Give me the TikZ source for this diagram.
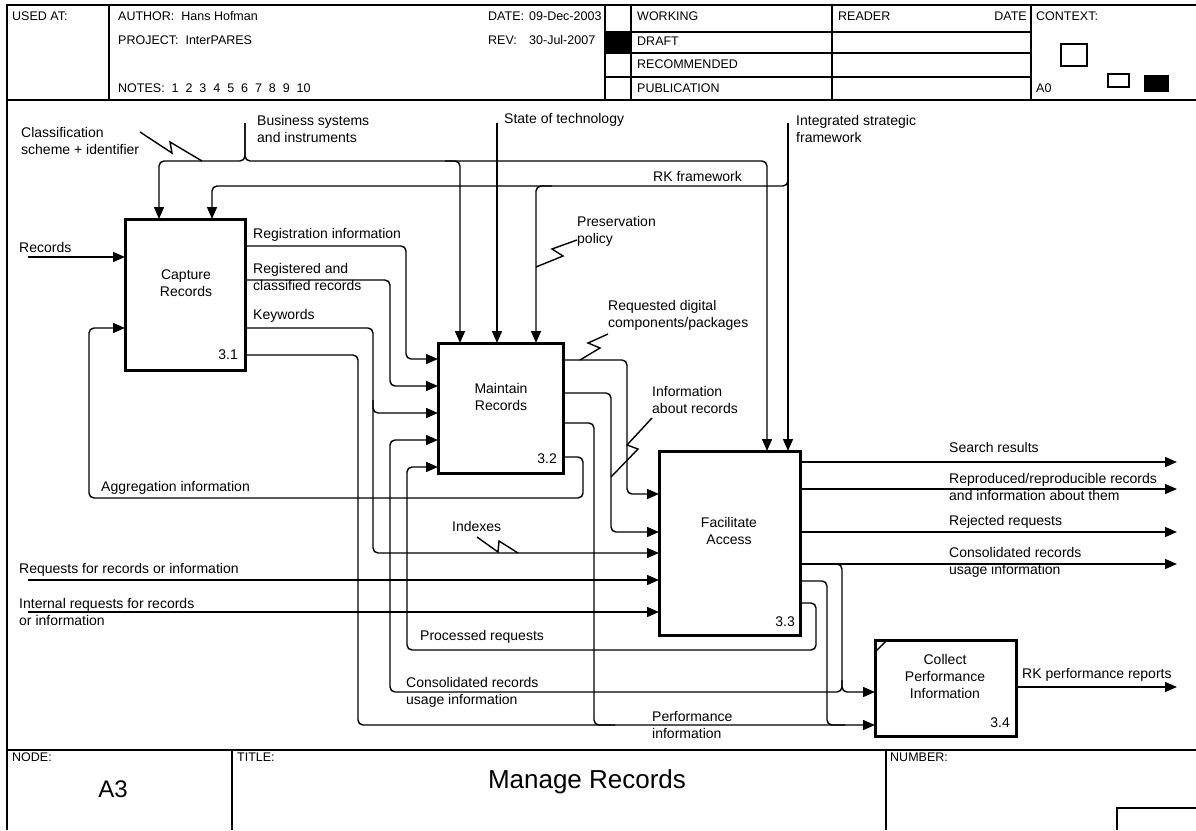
\documentclass[tikz,border=0pt]{standalone}
\usepackage{fontspec}
\setmainfont{Liberation Sans}
\usetikzlibrary{arrows.meta,calc}
\begin{document}
\begin{tikzpicture}[x=1pt,y=-1pt,
  conn/.style={line width=1.4pt, rounded corners=5pt},
  arr/.style={conn, -{Triangle[length=12pt,width=10pt]}},
  fbox/.style={draw, line width=3pt, anchor=north west, inner sep=0pt, outer sep=0pt},
  lbl/.style={anchor=west, inner sep=0pt, align=left, font=\fontsize{14}{17}\selectfont},
  blbl/.style={align=center, inner sep=0pt, font=\fontsize{14}{17}\selectfont},
  num/.style={anchor=east, inner sep=0pt, font=\fontsize{14}{17}\selectfont},
  hdr/.style={anchor=west, inner sep=0pt, font=\fontsize{12.5}{15}\selectfont},
  brd/.style={line width=1.6pt},
  thin/.style={line width=1.2pt},
  sq/.style={line width=1.4pt}]

\useasboundingbox (0,0) rectangle (1196,830);
\fill[white] (0,0) rectangle (1196,830);

% ---------- frame ----------
\draw[brd] (7,830) -- (7,5) -- (1196,5);
\draw[brd] (7,100) -- (1196,100);
\draw[brd] (7,750) -- (1196,750);
\draw[brd] (109,5) -- (109,100);
\draw[brd] (605,5) -- (605,100);
\draw[brd] (631,5) -- (631,100);
\draw[brd] (832,5) -- (832,100);
\draw[brd] (1031,5) -- (1031,100);
\draw[thin] (605,32) -- (1031,32) (605,53) -- (1031,53) (605,77) -- (1031,77);
\fill (605,32) rectangle (631,53);
\draw[thin] (1061,44) rectangle (1087,66);
\draw[thin] (1108,74) rectangle (1129,87);
\fill (1144,75) rectangle (1169,92);
\draw[brd] (232,750) -- (232,830);
\draw[brd] (886,750) -- (886,830);
\draw[thin] (1117,830) -- (1117,808) -- (1196,808);

% ---------- header text ----------
\node[hdr] (usedat) at (12,16) {USED AT:};
\node[hdr] (author) at (118,16) {AUTHOR:\ \ Hans Hofman};
\node[hdr] (project) at (118,40) {PROJECT:\ \ InterPARES};
\node[hdr] (notes) at (118,88) {NOTES:\ \ 1\ \ 2\ \ 3\ \ 4\ \ 5\ \ 6\ \ 7\ \ 8\ \ 9\ \ 10};
\node[hdr] (date) at (488,16) {\makebox[41pt][l]{DATE:}09-Dec-2003};
\node[hdr] (rev) at (488,40) {\makebox[41pt][l]{REV:}30-Jul-2007};
\node[hdr] (working) at (637,16) {WORKING};
\node[hdr] (draft) at (637,41) {DRAFT};
\node[hdr] (recom) at (637,64) {RECOMMENDED};
\node[hdr] (publ) at (637,88) {PUBLICATION};
\node[hdr] (reader) at (838,16) {READER};
\node[hdr, anchor=east] (rdate) at (1027,16) {DATE};
\node[hdr] (context) at (1036,16) {CONTEXT:};
\node[hdr] (a0) at (1036,88) {A0};

% ---------- title block ----------
\node[hdr] (nodelbl) at (12,757) {NODE:};
\node[hdr] (titlelbl) at (237,757) {TITLE:};
\node[hdr] (numlbl) at (890,757) {NUMBER:};
\node[inner sep=0pt, font=\fontsize{24}{28}\selectfont] (nodeid) at (113,789) {A3};
\node[inner sep=0pt, font=\fontsize{26}{30}\selectfont] (title) at (587,782) {Manage Records};

% ---------- boxes ----------
\node[fbox, minimum width=120pt, minimum height=151pt] (A1) at (125,219) {};
\node[fbox, minimum width=125pt, minimum height=130pt] (A2) at (438,343) {};
\node[fbox, minimum width=141pt, minimum height=184pt] (F) at (659,451) {};
\node[fbox, minimum width=141pt, minimum height=96pt] (C) at (875,640) {};
\draw[sq] ($(C.north west)+(1,11)$) -- ($(C.north west)+(12,0)$);

\node[blbl] (A1t) at (186,283) {Capture\\Records};
\node[num] (A1n) at (238,355) {3.1};
\node[blbl] (A2t) at (501,397) {Maintain\\Records};
\node[num] (A2n) at (557,459) {3.2};
\node[blbl] (Ft) at (729,531) {Facilitate\\Access};
\node[num] (Fn) at (795,622) {3.3};
\node[blbl] (Ct) at (945,676) {Collect\\Performance\\Information};
\node[num] (Cn) at (1010,723) {3.4};

% ---------- ports ----------
\coordinate (A1i1) at ($(A1.north west)+(0,38)$);
\coordinate (A1i2) at ($(A1.north west)+(0,109)$);
\coordinate (A1c1) at ($(A1.north west)+(34,0)$);
\coordinate (A1c2) at ($(A1.north west)+(87,0)$);
\coordinate (A1o1) at ($(A1.north east)+(0,27)$);
\coordinate (A1o2) at ($(A1.north east)+(0,61)$);
\coordinate (A1o3) at ($(A1.north east)+(0,109)$);
\coordinate (A1o4) at ($(A1.north east)+(0,136)$);

\coordinate (A2i1) at ($(A2.north west)+(0,16)$);
\coordinate (A2i2) at ($(A2.north west)+(0,43)$);
\coordinate (A2i3) at ($(A2.north west)+(0,70)$);
\coordinate (A2i4) at ($(A2.north west)+(0,97)$);
\coordinate (A2i5) at ($(A2.north west)+(0,124)$);
\coordinate (A2c1) at ($(A2.north west)+(22,0)$);
\coordinate (A2c2) at ($(A2.north west)+(59,0)$);
\coordinate (A2c3) at ($(A2.north west)+(98,0)$);
\coordinate (A2o1) at ($(A2.north east)+(0,17)$);
\coordinate (A2o2) at ($(A2.north east)+(0,50)$);
\coordinate (A2o3) at ($(A2.north east)+(0,80)$);
\coordinate (A2o4) at ($(A2.north east)+(0,114)$);

\coordinate (Fi1) at ($(F.north west)+(0,43)$);
\coordinate (Fi2) at ($(F.north west)+(0,81)$);
\coordinate (Fi3) at ($(F.north west)+(0,102)$);
\coordinate (Fi4) at ($(F.north west)+(0,129)$);
\coordinate (Fi5) at ($(F.north west)+(0,161)$);
\coordinate (Fc1) at ($(F.north west)+(108,0)$);
\coordinate (Fc2) at ($(F.north west)+(129,0)$);
\coordinate (Fo1) at ($(F.north east)+(0,11)$);
\coordinate (Fo2) at ($(F.north east)+(0,38)$);
\coordinate (Fo3) at ($(F.north east)+(0,81)$);
\coordinate (Fo4) at ($(F.north east)+(0,113)$);
\coordinate (Fo5) at ($(F.north east)+(0,130)$);
\coordinate (Fo6) at ($(F.north east)+(0,152)$);

\coordinate (Ci1) at ($(C.north west)+(0,52)$);
\coordinate (Ci2) at ($(C.north west)+(0,85)$);
\coordinate (Co1) at ($(C.north east)+(0,47)$);

% free ends
\coordinate (rec) at (28,257);
\coordinate (req) at (28,580);
\coordinate (ireq) at (28,612);
\coordinate (bs) at (245,123);
\coordinate (st) at (497,123);
\coordinate (isf) at (788,123);
\coordinate (out1) at (1177,462);
\coordinate (out2) at (1177,489);
\coordinate (out3) at (1177,532);
\coordinate (out4) at (1177,564);
\coordinate (out5) at (1177,687);

% ---------- connectors ----------
\draw[arr] (rec) -- (A1i1);
\draw[arr] (req) -- (Fi4);
\draw[arr] (ireq) -- (Fi5);

% controls
\draw[arr] (bs) -- (245,161) -- (159,161) -- (A1c1);
\draw[arr] (bs) -- (245,161) -- (767,161) -- (Fc1);
\draw[arr] (445,161) -- (460,161) -- (A2c1);
\draw[arr] (st) -- (A2c2);
\draw[arr] (isf) -- (Fc2);
\draw[arr] (788,170) -- (788,186) -- (212,186) -- (A1c2);
\draw[arr] (552,186) -- (536,186) -- (A2c3);

% A1 outputs
\draw[arr] (A1o1) -- (406,246) -- (406,359) -- (A2i1);
\draw[arr] (A1o2) -- (390,280) -- (390,386) -- (A2i2);
\draw[arr] (A1o3) -- (373,328) -- (373,553) -- (Fi3);
\draw[arr] (373,400) -- (373,413) -- (A2i3);
\draw[arr] (A1o4) -- (358,355) -- (358,725) -- (Ci2);

% A2 outputs
\draw[arr] (A2o1) -- (627,360) -- (627,494) -- (Fi1);
\draw[arr] (A2o2) -- (611,393) -- (611,532) -- (Fi2);
\draw[conn] (A2o3) -- (594,423) -- (594,725) -- (615,725);
\draw[arr] (A2o4) -- (583,457) -- (583,498) -- (89,498) -- (89,328) -- (A1i2);

% F outputs
\draw[arr] (Fo1) -- (out1);
\draw[arr] (Fo2) -- (out2);
\draw[arr] (Fo3) -- (out3);
\draw[arr] (Fo4) -- (out4);
\draw[arr] (830,564) -- (842,564) -- (842,692) -- (Ci1);
\draw[arr] (842,680) -- (842,692) -- (390,692) -- (390,440) -- (A2i4);
\draw[conn] (Fo5) -- (827,581) -- (827,725) -- (845,725);
\draw[arr] (Fo6) -- (816,603) -- (816,650) -- (407,650) -- (407,467) -- (A2i5);

% C output
\draw[arr] (Co1) -- (out5);

% ---------- squiggles ----------
\draw[sq] (140,132) -- (172,153) -- (170,142) -- (202,161);
\draw[sq] (536,267) -- (563,256) -- (552,249) -- (577,240);
\draw[sq] (580,360) -- (600,348) -- (588,343) -- (608,334);
\draw[sq] (652,418) -- (627,445) -- (638,449) -- (611,477);
\draw[sq] (477,537) -- (498,552) -- (499,541) -- (518,553);

% ---------- labels ----------
\node[lbl] (l1) at (21,140.5) {Classification\\scheme + identifier};
\node[lbl] (l2) at (257,129) {Business systems\\and instruments};
\node[lbl] (l3) at (504,120) {State of technology};
\node[lbl] (l4) at (796,128.5) {Integrated strategic\\framework};
\node[lbl] (l5) at (653,176) {RK framework};
\node[lbl] (l6) at (577,231) {Preservation\\policy};
\node[lbl] (l7) at (19,247) {Records};
\node[lbl] (l8) at (253,235) {Registration information};
\node[lbl] (l9) at (253,277) {Registered and\\classified records};
\node[lbl] (l10) at (253,316) {Keywords};
\node[lbl] (l11) at (608,315.5) {Requested digital\\components/packages};
\node[lbl] (l12) at (652,399.5) {Information\\about records};
\node[lbl] (l13) at (101,488) {Aggregation information};
\node[lbl] (l14) at (452,526) {Indexes};
\node[lbl] (l15) at (19,570) {Requests for records or information};
\node[lbl] (l16) at (19,611.5) {Internal requests for records\\or information};
\node[lbl] (l17) at (420,637) {Processed requests};
\node[lbl] (l18) at (406,692) {Consolidated records\\usage information};
\node[lbl] (l19) at (652,724.5) {Performance\\information};
\node[lbl] (l20) at (949,447) {Search results};
\node[lbl] (l21) at (949,487) {Reproduced/reproducible records\\and information about them};
\node[lbl] (l22) at (949,522) {Rejected requests};
\node[lbl] (l23) at (949,562.5) {Consolidated records\\usage information};
\node[lbl] (l24) at (1022,675) {RK performance reports};

\end{tikzpicture}
\end{document}
